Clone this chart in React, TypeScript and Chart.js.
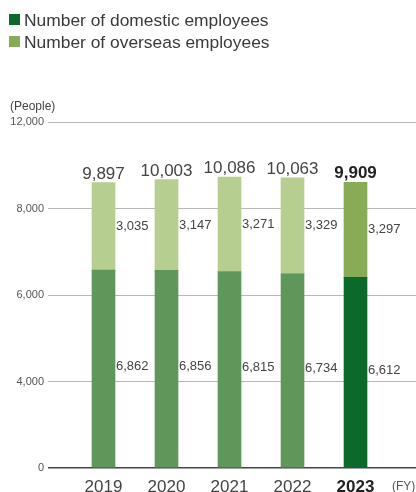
import React, { useEffect, useRef } from "react";
import { Chart, registerables } from "chart.js";

Chart.register(...registerables);

const years = ["2019", "2020", "2021", "2022", "2023"];
const domestic = [6862, 6856, 6815, 6734, 6612];
const overseas = [3035, 3147, 3271, 3329, 3297];
// gridline positions and the labels printed on them (as in the source chart)
const yTickValues = [0, 3000, 6000, 9000, 12000];
const yTickLabels = ["0", "4,000", "6,000", "8,000", "12,000"];
const legendLabels = ["Number of domestic employees", "Number of overseas employees"];

const FONT = '"Liberation Sans", Arial, Helvetica, sans-serif';
const DOM = "#5f965a";
const DOM_HL = "#0b6a2b";
const OVS = "#b6cf90";
const OVS_HL = "#88ac55";
const HL_INDEX = 4;

const fmt = (v: number) => v.toLocaleString("en-US");

const labelsPlugin = {
  id: "customLabels",
  afterDraw(chart: any) {
    const ctx = chart.ctx as CanvasRenderingContext2D;
    const xScale = chart.scales.x;
    const m0 = chart.getDatasetMeta(0).data;
    const m1 = chart.getDatasetMeta(1).data;
    ctx.save();
    // legend
    const colors = [DOM_HL, OVS_HL];
    legendLabels.forEach((t, i) => {
      const y = 14 + i * 22;
      ctx.fillStyle = colors[i];
      ctx.fillRect(9, y, 11, 11);
      ctx.fillStyle = "#3a3a3a";
      ctx.font = `17.4px ${FONT}`;
      ctx.textAlign = "left";
      ctx.textBaseline = "alphabetic";
      ctx.fillText(t, 24, y + 12);
    });
    // axis title
    ctx.fillStyle = "#444";
    ctx.font = `12px ${FONT}`;
    ctx.fillText("(People)", 10, 110);
    // bar labels
    years.forEach((yr, i) => {
      const b0 = m0[i];
      const b1 = m1[i];
      const right = b0.x + b0.width / 2 + 1;
      ctx.fillStyle = "#444";
      ctx.font = `13px ${FONT}`;
      ctx.textAlign = "left";
      ctx.textBaseline = "middle";
      ctx.fillText(fmt(domestic[i]), right, (b0.y + b0.base) / 2 - 2);
      ctx.fillText(fmt(overseas[i]), right, (b1.y + b1.base) / 2);
      const bold = i === HL_INDEX;
      ctx.textAlign = "center";
      ctx.textBaseline = "alphabetic";
      ctx.fillStyle = bold ? "#222" : "#444";
      ctx.font = `${bold ? "bold " : ""}17px ${FONT}`;
      ctx.fillText(fmt(domestic[i] + overseas[i]), b1.x, b1.y - 4);
      // year labels
      ctx.fillStyle = bold ? "#222" : "#444";
      ctx.font = `${bold ? "bold " : ""}17px ${FONT}`;
      ctx.fillText(yr, xScale.getPixelForValue(i), 492);
    });
    ctx.fillStyle = "#555";
    ctx.font = `12px ${FONT}`;
    ctx.textAlign = "left";
    ctx.fillText("(FY)", 392, 490);
    ctx.restore();
  },
};

export default function App() {
  const ref = useRef<HTMLCanvasElement | null>(null);
  useEffect(() => {
    if (!ref.current) return;
    const chart = new Chart(ref.current, {
      type: "bar",
      data: {
        datasets: [
          {
            label: legendLabels[0],
            data: domestic.map((v, i) => ({ x: i, y: v })),
            backgroundColor: domestic.map((_, i) => (i === HL_INDEX ? DOM_HL : DOM)),
            barThickness: 23,
          },
          {
            label: legendLabels[1],
            data: overseas.map((v, i) => ({ x: i, y: v })),
            backgroundColor: overseas.map((_, i) => (i === HL_INDEX ? OVS_HL : OVS)),
            barThickness: 23,
          },
        ],
      } as any,
      options: {
        animation: false,
        responsive: false,
        devicePixelRatio: 1,
        layout: { padding: { top: 122, bottom: 24, left: 0, right: 0 } },
        plugins: { legend: { display: false }, tooltip: { enabled: false } },
        scales: {
          x: {
            type: "linear",
            display: false,
            stacked: true,
            offset: false,
            bounds: "ticks",
            min: -0.881,
            max: 4.96,
          },
          y: {
            stacked: true,
            min: 0,
            max: 12000,
            afterBuildTicks: (s: any) => {
              s.ticks = yTickValues.map((v) => ({ value: v }));
            },
            afterFit: (s: any) => {
              s.width = 48;
            },
            border: { display: false },
            grid: {
              drawTicks: false,
              color: (c: any) => (c.tick && c.tick.value === 0 ? "#444" : "#b8b8b8"),
              lineWidth: (c: any) => (c.tick && c.tick.value === 0 ? 1.5 : 1),
            },
            ticks: {
              padding: 4,
              color: "#555",
              font: { size: 11, family: FONT },
              callback: (v: any) => {
                const k = yTickValues.indexOf(Number(v));
                return k >= 0 ? yTickLabels[k] : "";
              },
            },
          },
        },
      } as any,
      plugins: [labelsPlugin],
    });
    return () => chart.destroy();
  }, []);
  return (
    <div style={{ position: "fixed", left: 0, top: 0, width: 416, height: 492, background: "#fff" }}>
      <canvas ref={ref} width={416} height={492} style={{ width: 416, height: 492 }} />
    </div>
  );
}
